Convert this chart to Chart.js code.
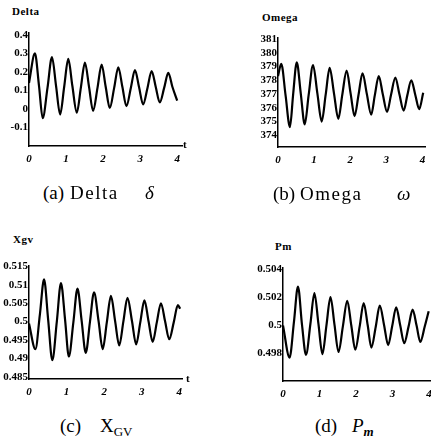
<!DOCTYPE html>
<html>
<head>
<meta charset="utf-8">
<script src="https://cdn.jsdelivr.net/npm/chart.js@4"></script>
<style>
html, body { margin: 0; padding: 0; background: #fff; overflow: hidden; width: 431px; height: 438px; }
body { position: relative; font-family: "Liberation Serif", serif; color: #000; }
canvas { position: absolute; }
.lbl { position: absolute; font-weight: bold; font-size: 11px; letter-spacing: 0.5px; line-height: 1; white-space: nowrap; }
.cap { position: absolute; font-size: 19px; line-height: 1; white-space: nowrap; }
.w { letter-spacing: 1.5px; }
.cap sub { font-size: 13px; vertical-align: -4px; letter-spacing: 0; }
</style>
</head>
<body>
<canvas id="cA"></canvas>
<canvas id="cB"></canvas>
<canvas id="cC"></canvas>
<canvas id="cD"></canvas>

<span class="lbl" style="left:12px;top:6px">Delta</span>
<span class="lbl" style="left:262px;top:12px">Omega</span>
<span class="lbl" style="left:13px;top:234px">Xgv</span>
<span class="lbl" style="left:275px;top:241px">Pm</span>
<span class="lbl" style="left:183px;top:139px">t</span>
<span class="lbl" style="left:186px;top:373px">t</span>

<span class="cap" style="left:43px;top:183px">(a)</span>
<span class="cap w" style="left:70px;top:183px">Delta</span>
<span class="cap" style="left:145px;top:183px;font-style:italic">δ</span>
<span class="cap" style="left:273px;top:184px">(b)</span>
<span class="cap w" style="left:300px;top:184px">Omega</span>
<span class="cap" style="left:397px;top:184px;font-style:italic">ω</span>
<span class="cap" style="left:60px;top:416px">(c)</span>
<span class="cap" style="left:100px;top:416px">X<sub>GV</sub></span>
<span class="cap" style="left:315px;top:416px">(d)</span>
<span class="cap" style="left:352px;top:416px;font-style:italic">P<sub style="font-weight:bold">m</sub></span>

<script>
// shared time ticks
const xTicks = [0, 1, 2, 3, 4];

// (a) Delta
const deltaT = [0, 0.16, 0.27, 0.37, 0.5, 0.62, 0.73, 0.84, 0.95, 1.06, 1.17, 1.29, 1.4, 1.51, 1.62, 1.73, 1.85, 1.96,
  2.07, 2.18, 2.3, 2.41, 2.52, 2.63, 2.75, 2.86, 2.97, 3.08, 3.2, 3.31, 3.42, 3.53, 3.65, 3.76, 3.87, 4.0];
const deltaV = [0.14, 0.30, 0.125, -0.05, 0.115, 0.28, 0.125, -0.03, 0.12, 0.27, 0.125, -0.02, 0.115, 0.25, 0.12, -0.01, 0.115, 0.24,
  0.12, 0.005, 0.115, 0.225, 0.12, 0.015, 0.115, 0.21, 0.118, 0.025, 0.115, 0.205, 0.12, 0.035, 0.115, 0.195, 0.12, 0.045];
const deltaTicks = [-0.1, 0, 0.1, 0.2, 0.3, 0.4];

// (b) Omega
const omegaT = [0, 0.09, 0.21, 0.33, 0.42, 0.52, 0.63, 0.74, 0.85, 0.97, 1.09, 1.21, 1.32, 1.43, 1.55, 1.67, 1.78, 1.9,
  2.01, 2.12, 2.23, 2.34, 2.46, 2.58, 2.68, 2.79, 2.9, 3.02, 3.13, 3.25, 3.36, 3.48, 3.58, 3.69, 3.8, 3.91, 4.02];
const omegaV = [378.3, 379.2, 376.9, 374.6, 377.0, 379.3, 377.05, 374.8, 376.95, 379.1, 377.05, 375.0, 376.95, 378.9, 377.05, 375.2, 376.95, 378.7,
  377.05, 375.4, 376.95, 378.5, 377.0, 375.5, 376.9, 378.3, 377.0, 375.7, 376.95, 378.2, 377.0, 375.8, 376.9, 378.0, 376.95, 375.9, 377.1];
const omegaTicks = [374, 375, 376, 377, 378, 379, 380, 381];

// (c) Xgv
const xgvT = [0, 0.17, 0.29, 0.40, 0.51, 0.62, 0.74, 0.85, 0.96, 1.06, 1.18, 1.29, 1.40, 1.51, 1.62, 1.73, 1.85, 1.96,
  2.07, 2.18, 2.29, 2.40, 2.51, 2.62, 2.74, 2.85, 2.96, 3.07, 3.18, 3.29, 3.40, 3.51, 3.62, 3.73, 3.85, 3.96, 4.02];
const xgvV = [0.4995, 0.4925, 0.502, 0.5115, 0.5005, 0.4895, 0.5, 0.5105, 0.5005, 0.4905, 0.4998, 0.509, 0.5003, 0.4915, 0.4998, 0.508, 0.5002, 0.4925,
  0.4998, 0.507, 0.5002, 0.4935, 0.5, 0.5065, 0.5001, 0.4938, 0.4998, 0.5058, 0.5001, 0.4945, 0.4998, 0.505, 0.5001, 0.4952, 0.4998, 0.5045, 0.5035];
const xgvTicks = [0.485, 0.49, 0.495, 0.5, 0.505, 0.51, 0.515];

// (d) Pm
const pmT = [0, 0.18, 0.30, 0.41, 0.52, 0.63, 0.75, 0.86, 0.97, 1.08, 1.19, 1.30, 1.41, 1.52, 1.64, 1.76, 1.87, 1.98,
  2.10, 2.21, 2.32, 2.42, 2.54, 2.65, 2.77, 2.88, 2.99, 3.10, 3.21, 3.32, 3.44, 3.55, 3.66, 3.76, 3.88, 3.99];
const pmV = [0.5, 0.4977, 0.50025, 0.50278, 0.50005, 0.4979, 0.5001, 0.50231, 0.50012, 0.49795, 0.5, 0.50202, 0.50006, 0.4981, 0.49993, 0.50176, 0.50001, 0.49826,
  0.49993, 0.5016, 0.50001, 0.49842, 0.49991, 0.50141, 0.5, 0.49859, 0.49994, 0.50129, 0.50001, 0.49873, 0.49993, 0.50113, 0.49997, 0.49882, 0.4999, 0.50101];
const pmTicks = [0.498, 0.5, 0.502, 0.504];

const tickFont = { family: 'Liberation Serif', size: 11, weight: 'bold' };

function panel(id, left, area, ts, vs, yMin, yMax, yTicks, xMax) {
    const cv = document.getElementById(id);
    const top = area.t - 10;
    cv.width = area.r + 8 - left;
    cv.height = area.b + 22 - top;
    cv.style.left = left + 'px';
    cv.style.top = top + 'px';

    new Chart(cv, {
        type: 'line',
        data: {
            datasets: [{
                data: ts.map((t, i) => ({ x: t, y: vs[i] })),
                borderColor: '#000',
                borderWidth: 2.2,
                pointRadius: 0,
                cubicInterpolationMode: 'monotone',
                fill: false
            }]
        },
        options: {
            responsive: false,
            animation: false,
            layout: { padding: { top: 10, right: 8, left: 0, bottom: 0 } },
            plugins: { legend: { display: false }, tooltip: { enabled: false } },
            scales: {
                x: {
                    type: 'linear', min: 0, max: xMax,
                    grid: { display: false, drawTicks: false },
                    border: { display: true, color: '#000', width: 1.5 },
                    ticks: { padding: 7, autoSkip: false, maxRotation: 0, color: '#000', font: Object.assign({ style: 'italic' }, tickFont) },
                    afterBuildTicks: s => { s.ticks = xTicks.map(v => ({ value: v })); },
                    afterFit: s => { s.height = 22; }
                },
                y: {
                    type: 'linear', min: yMin, max: yMax,
                    grid: { display: false, drawTicks: false },
                    border: { display: true, color: '#000', width: 1.5 },
                    ticks: { padding: 1, autoSkip: false, color: '#000', font: tickFont, callback: v => String(v) },
                    afterBuildTicks: s => { s.ticks = yTicks.map(v => ({ value: v })); },
                    afterFit: s => { s.width = area.l - left; }
                }
            }
        }
    });
}

panel('cA', 0, { l: 29, t: 33, r: 182, b: 146 }, deltaT, deltaV, -0.2, 0.41, deltaTicks, 4.13);
panel('cB', 235, { l: 278, t: 38, r: 425, b: 147 }, omegaT, omegaV, 373.15, 381.07, omegaTicks, 4.07);
panel('cC', 0, { l: 29, t: 266, r: 182, b: 379 }, xgvT, xgvV, 0.48437, 0.51516, xgvTicks, 4.07);
panel('cD', 235, { l: 283, t: 268, r: 440, b: 381 }, pmT, pmV, 0.49603, 0.5041, pmTicks, 4.30);
</script>
</body>
</html>
